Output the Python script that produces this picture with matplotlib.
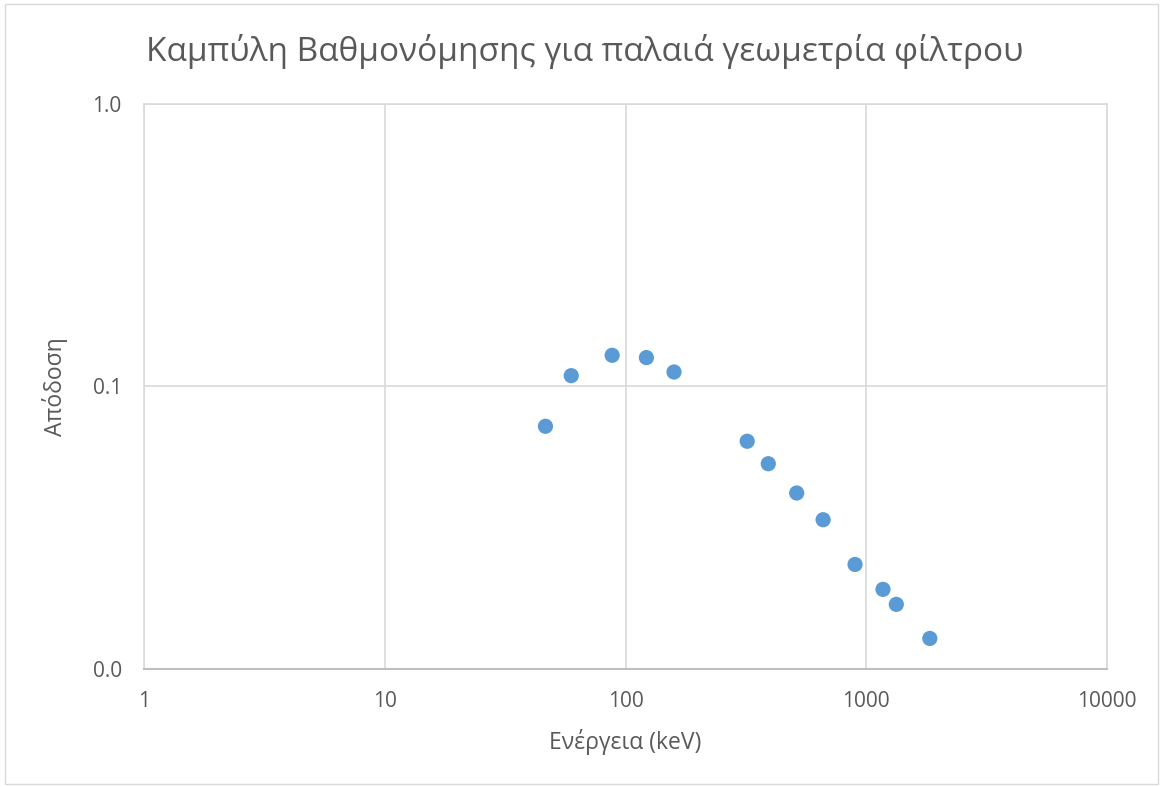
import matplotlib.pyplot as plt
from matplotlib.patches import Rectangle
from matplotlib.ticker import FixedLocator, FuncFormatter, NullLocator

plt.rcParams['font.family'] = ['Open Sans', 'DejaVu Sans']

# data
energy_kev = [46.5, 59.5, 88.0, 122.1, 159.0, 320.1, 391.7, 514.0, 661.7, 898.0, 1173.2, 1332.5, 1836.1]
efficiency = [0.0722, 0.1091, 0.1288, 0.1264, 0.1124, 0.0639, 0.0532, 0.0419, 0.0337, 0.0234, 0.0191, 0.0169, 0.0128]
x_ticks = [1, 10, 100, 1000, 10000]
y_ticks = [0.01, 0.1, 1.0]

text_col = '#595959'
grid_col = '#D9D9D9'

fig = plt.figure(figsize=(11.63, 7.87), dpi=100)
fig.patches.append(Rectangle((0.004, 0.004), 0.992, 0.991, transform=fig.transFigure,
                             fill=False, edgecolor='#D9D9D9', linewidth=1))
ax = fig.add_axes([0.1238, 0.1503, 0.8281, 0.7176])

ax.scatter(energy_kev, efficiency, s=120, color='#5B9BD5', edgecolors='none', zorder=3)

ax.set_xscale('log')
ax.set_yscale('log')
ax.set_xlim(1, 10000)
ax.set_ylim(0.01, 1.0)
ax.xaxis.set_major_locator(FixedLocator(x_ticks))
ax.yaxis.set_major_locator(FixedLocator(y_ticks))
ax.xaxis.set_minor_locator(NullLocator())
ax.yaxis.set_minor_locator(NullLocator())
ax.xaxis.set_major_formatter(FuncFormatter(lambda v, p: '%d' % v))
ax.yaxis.set_major_formatter(FuncFormatter(lambda v, p: '%.1f' % v))

ax.grid(True, color=grid_col, linewidth=1.2)
ax.set_axisbelow(True)
for s in ['top', 'right', 'left']:
    ax.spines[s].set_color(grid_col)
    ax.spines[s].set_linewidth(1.2)
ax.spines['bottom'].set_color('#BFBFBF')
ax.spines['bottom'].set_linewidth(1.5)

ax.tick_params(axis='x', length=0, pad=16, labelsize=15, labelcolor=text_col)
ax.tick_params(axis='y', length=0, pad=16, labelsize=15, labelcolor=text_col)

ax.set_xlabel('Ενέργεια (keV)', fontsize=16.5, color=text_col, va='center')
ax.set_ylabel('Απόδοση', fontsize=16.5, color=text_col, va='center')
ax.xaxis.set_label_coords(0.5, -0.13)
ax.yaxis.set_label_coords(-0.092, 0.5)
fig.text(0.503, 0.934, 'Καμπύλη Βαθμονόμησης για παλαιά γεωμετρία φίλτρου',
         ha='center', va='center', fontsize=24, color=text_col)

plt.savefig('out.png', dpi=100)
